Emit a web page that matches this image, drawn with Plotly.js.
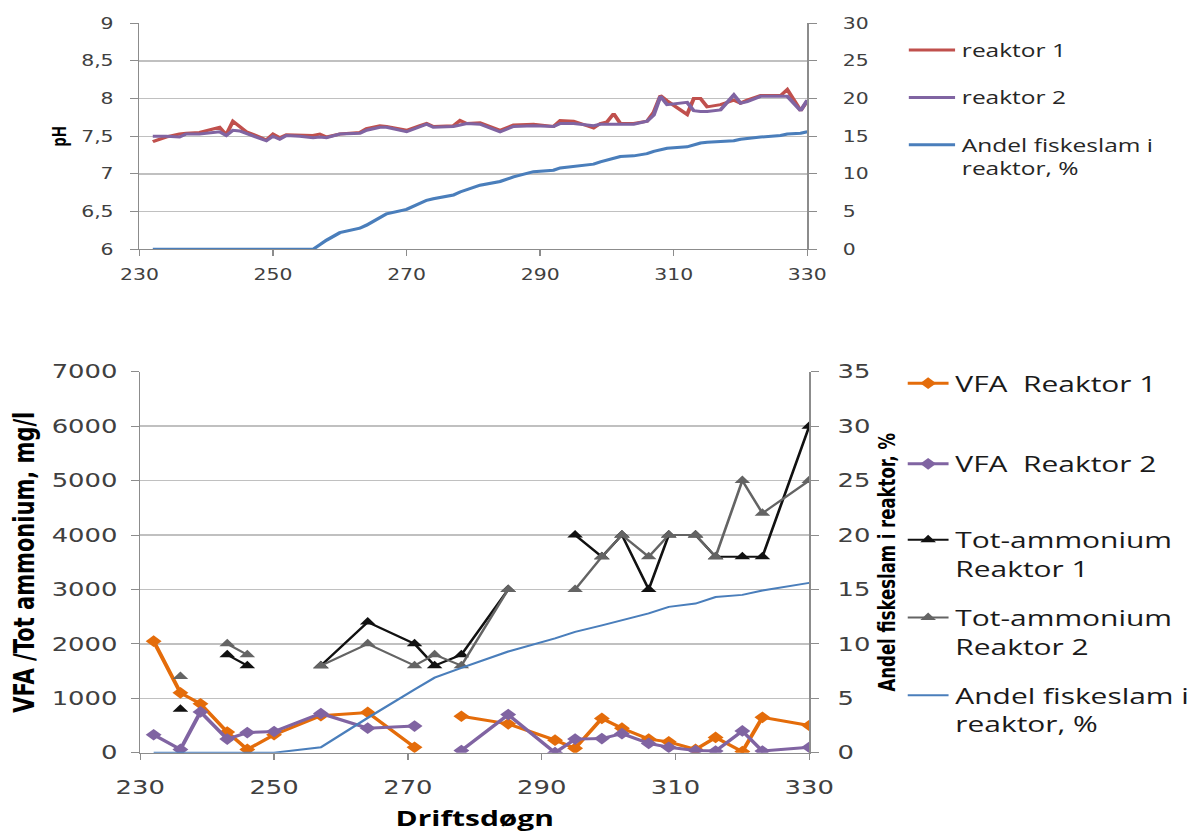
<!DOCTYPE html>
<html>
<head>
<meta charset="utf-8">
<script src="https://cdn.plot.ly/plotly-3.0.1.min.js"></script>
<style>
  html, body { margin: 0; padding: 0; background: #ffffff; overflow: hidden; }
  #wrap { width: 1200px; height: 837px; overflow: hidden; }
  /* the figure is laid out narrow and widened horizontally */
  #chart { width: 882px; height: 837px; transform: scaleX(1.3605); transform-origin: 0 0; }
</style>
</head>
<body>
<div id="wrap"><div id="chart"></div></div>
<script>
// ---- pH og andel fiskeslam (driftsdøgn) ----
const phDager = [232, 234, 236, 237, 239, 242, 243, 244, 245, 246, 248, 249, 250, 251, 252, 254, 256, 257, 258, 260,
  263, 264, 266, 267, 270, 272, 273, 274, 277, 278, 279, 281, 284, 286, 289, 292, 293, 295, 298, 299,
  300, 301, 302, 304, 306, 307, 308, 309, 312, 313, 314, 315, 317, 319, 320, 321, 323, 326, 327, 329, 330];
const phReaktor1 = [7.43, 7.49, 7.53, 7.54, 7.55, 7.62, 7.52, 7.70, 7.63, 7.56, 7.49, 7.45, 7.53, 7.48, 7.52, 7.51, 7.51, 7.53, 7.49, 7.53,
  7.55, 7.60, 7.64, 7.63, 7.58, 7.64, 7.67, 7.63, 7.64, 7.71, 7.67, 7.68, 7.58, 7.65, 7.66, 7.63, 7.71, 7.70, 7.61, 7.67,
  7.69, 7.80, 7.67, 7.67, 7.70, 7.82, 8.04, 7.97, 7.79, 8.00, 8.00, 7.89, 7.92, 7.98, 7.94, 7.98, 8.04, 8.04, 8.12, 7.84, 7.97];
const phReaktor2 = [7.50, 7.50, 7.49, 7.53, 7.53, 7.56, 7.51, 7.58, 7.57, 7.54, 7.48, 7.44, 7.50, 7.46, 7.51, 7.50, 7.48, 7.49, 7.48, 7.53,
  7.54, 7.58, 7.62, 7.62, 7.56, 7.62, 7.66, 7.62, 7.63, 7.65, 7.67, 7.66, 7.56, 7.63, 7.64, 7.63, 7.67, 7.67, 7.64, 7.66,
  7.66, 7.67, 7.66, 7.66, 7.70, 7.78, 8.03, 7.92, 7.95, 7.84, 7.83, 7.83, 7.85, 8.05, 7.94, 7.96, 8.03, 8.03, 8.03, 7.84, 7.98];
const andelFiskeslam = [0, 0, 0, 0, 0, 0, 0, 0, 0, 0, 0, 0, 0, 0, 0, 0, 0, 0.6, 1.2, 2.2,
  2.8, 3.2, 4.2, 4.7, 5.3, 6.1, 6.5, 6.7, 7.2, 7.6, 7.9, 8.5, 9.0, 9.6, 10.3, 10.5, 10.8, 11.0, 11.3, 11.6,
  11.8, 12.1, 12.3, 12.4, 12.7, 13.0, 13.2, 13.4, 13.6, 13.9, 14.1, 14.2, 14.3, 14.4, 14.6, 14.7, 14.9, 15.1, 15.3, 15.4, 15.6];

// ---- VFA og Tot-ammonium (mg/l) på prøvedager ----
const proveDager = [232, 236, 239, 243, 246, 250, 257, 264, 271, 274, 278, 285, 292, 295, 299, 302, 306, 309, 313, 316, 320, 323, 330];
const vfaReaktor1 = [2050, 1100, 900, 380, 60, 330, 680, 740, 100, null, 670, 530, 230, 80, 630, 450, 250, 200, 60, 280, 20, 650, 500];
const vfaReaktor2 = [330, 60, 750, 250, 370, 390, 720, 450, 490, null, 40, 700, 0, 250, 260, 350, 170, 100, 40, 30, 400, 30, 100];
const nh4Reaktor1 = [null, 800, null, 1800, 1600, null, 1600, 2400, 2000, 1600, 1800, 3000, null, 4000, 3600, 4000, 3000, 4000, 4000, 3600, 3600, 3600, 6000];
const nh4Reaktor2 = [null, 1400, null, 2000, 1800, null, 1600, 2000, 1600, 1800, 1600, 3000, null, 3000, 3600, 4000, 3600, 4000, 4000, 3600, 5000, 4400, 5000];
const andelProveDager = [0, 0, 0, 0, 0, 0, 0.5, 3.2, 5.8, 6.9, 7.8, 9.3, 10.5, 11.1, 11.7, 12.2, 12.8, 13.4, 13.7, 14.3, 14.5, 14.9, 15.6];

const C = {
  rod: '#C0504D', lilla: '#8064A2', bla: '#4A7EBB',
  oransje: '#E46C0A', svart: '#111111', gra: '#646464',
  grid: '#C0C0C0', akse: '#8C8C8C', tekst: '#404040'
};

const smallTick = { family: 'DejaVu Sans', size: 15, color: C.tekst };
const bigTick = { family: 'DejaVu Sans', size: 19, color: C.tekst };
const boldFont = (fam, s) => ({ family: fam, size: s, color: '#000000', weight: 'bold' });

function xAxis(domain, anchor, font, standoff) {
  return {
    domain: domain, anchor: anchor, range: [230, 330], tick0: 230, dtick: 20,
    ticks: 'outside', ticklen: 6, tickcolor: C.akse, tickwidth: 1,
    showline: true, linecolor: C.akse, linewidth: 1, showgrid: false, zeroline: false,
    tickfont: font, ticklabelstandoff: standoff, fixedrange: true
  };
}
function yAxis(opts) {
  return Object.assign({
    ticks: 'outside', ticklen: 6, tickcolor: C.akse, tickwidth: 1,
    showline: true, linecolor: C.akse, linewidth: 1, zeroline: false, fixedrange: true
  }, opts);
}

const data = [
  { x: phDager, y: phReaktor1, xaxis: 'x', yaxis: 'y', type: 'scatter', mode: 'lines', name: 'reaktor 1',
    line: { color: C.rod, width: 3 }, legend: 'legend', legendgroup: 'p1' },
  { x: phDager, y: phReaktor2, xaxis: 'x', yaxis: 'y', type: 'scatter', mode: 'lines', name: 'reaktor 2',
    line: { color: C.lilla, width: 3 }, legend: 'legend', legendgroup: 'p2' },
  { x: phDager, y: andelFiskeslam, xaxis: 'x', yaxis: 'y2', type: 'scatter', mode: 'lines', name: 'Andel fiskeslam i<br>reaktor, %',
    line: { color: C.bla, width: 3 }, legend: 'legend', legendgroup: 'p3' },

  { x: proveDager, y: vfaReaktor1, xaxis: 'x2', yaxis: 'y3', type: 'scatter', mode: 'lines+markers', name: 'VFA\u00A0 Reaktor 1',
    line: { color: C.oransje, width: 3 }, marker: { symbol: 'diamond', size: 9, color: C.oransje },
    legend: 'legend2', legendgroup: 'v1' },
  { x: proveDager, y: vfaReaktor2, xaxis: 'x2', yaxis: 'y3', type: 'scatter', mode: 'lines+markers', name: 'VFA\u00A0 Reaktor 2',
    line: { color: C.lilla, width: 3 }, marker: { symbol: 'diamond', size: 9, color: C.lilla },
    legend: 'legend2', legendgroup: 'v2' },
  { x: proveDager, y: nh4Reaktor1, xaxis: 'x2', yaxis: 'y3', type: 'scatter', mode: 'lines+markers', name: 'Tot-ammonium<br>Reaktor 1',
    line: { color: C.svart, width: 2 }, marker: { symbol: 'triangle-up', size: 10, color: C.svart },
    legend: 'legend3', legendgroup: 'n1' },
  { x: proveDager, y: nh4Reaktor2, xaxis: 'x2', yaxis: 'y3', type: 'scatter', mode: 'lines+markers', name: 'Tot-ammonium<br>Reaktor 2',
    line: { color: C.gra, width: 2 }, marker: { symbol: 'triangle-up', size: 10, color: C.gra },
    legend: 'legend3', legendgroup: 'n2' },
  { x: proveDager, y: andelProveDager, xaxis: 'x2', yaxis: 'y4', type: 'scatter', mode: 'lines', name: 'Andel fiskeslam i<br>reaktor, %',
    line: { color: C.bla, width: 2 }, legend: 'legend3', legendgroup: 'n3' }
];

const legendBase = {
  xanchor: 'left', yanchor: 'top', bgcolor: 'rgba(0,0,0,0)', borderwidth: 0,
  traceorder: 'grouped', valign: 'top', itemwidth: 34, itemclick: false, itemdoubleclick: false
};
const bottomLegend = { x: 0.7508, itemwidth: 30, font: { family: 'Open Sans', size: 22, color: '#1a1a1a' } };

const layout = {
  width: 882, height: 837,
  margin: { l: 0, r: 0, t: 0, b: 0, autoexpand: false },
  paper_bgcolor: '#ffffff', plot_bgcolor: '#ffffff',
  separators: ',.',
  showlegend: true, hovermode: false,

  xaxis: xAxis([0.1162, 0.6728], 'y', smallTick, 6),
  yaxis: yAxis({ domain: [0.7022, 0.9722], anchor: 'x', range: [6, 9], dtick: 0.5,
    showgrid: true, gridcolor: C.grid, gridwidth: 1.3, tickfont: smallTick, ticklabelstandoff: 9,
    title: { text: 'pH', font: boldFont('Open Sans', 15), standoff: 6 } }),
  yaxis2: yAxis({ overlaying: 'y', side: 'right', anchor: 'x', range: [0, 30], dtick: 5,
    showgrid: false, tickfont: smallTick, ticklabelstandoff: 16 }),

  xaxis2: xAxis([0.1169, 0.6744], 'y3', bigTick, 11),
  yaxis3: yAxis({ domain: [0.1007, 0.5559], anchor: 'x2', range: [0, 7000], dtick: 1000,
    showgrid: true, gridcolor: C.grid, gridwidth: 1.3, tickfont: bigTick, ticklabelstandoff: 6,
    title: { text: 'VFA /Tot ammonium, mg/l', font: boldFont('DejaVu Sans', 21), standoff: 6 } }),
  yaxis4: yAxis({ overlaying: 'y3', side: 'right', anchor: 'x2', range: [0, 35], dtick: 5,
    showgrid: false, tickfont: bigTick, ticklabelstandoff: 10,
    title: { text: 'Andel fiskeslam i reaktor, %', font: boldFont('DejaVu Sans', 16.5), standoff: 7 } }),

  legend: Object.assign({}, legendBase, { x: 0.7517, y: 0.962, tracegroupgap: 21,
    font: { family: 'Open Sans', size: 18, color: '#262626' } }),
  legend2: Object.assign({}, legendBase, bottomLegend, { y: 0.567, tracegroupgap: 49 }),
  legend3: Object.assign({}, legendBase, bottomLegend, { y: 0.380, tracegroupgap: 17.5 })
};

layout.xaxis2.title = { text: 'Driftsdøgn', font: boldFont('Open Sans', 22), standoff: 14 };

Plotly.newPlot('chart', data, layout, { staticPlot: true, displayModeBar: false });
</script>
</body>
</html>
